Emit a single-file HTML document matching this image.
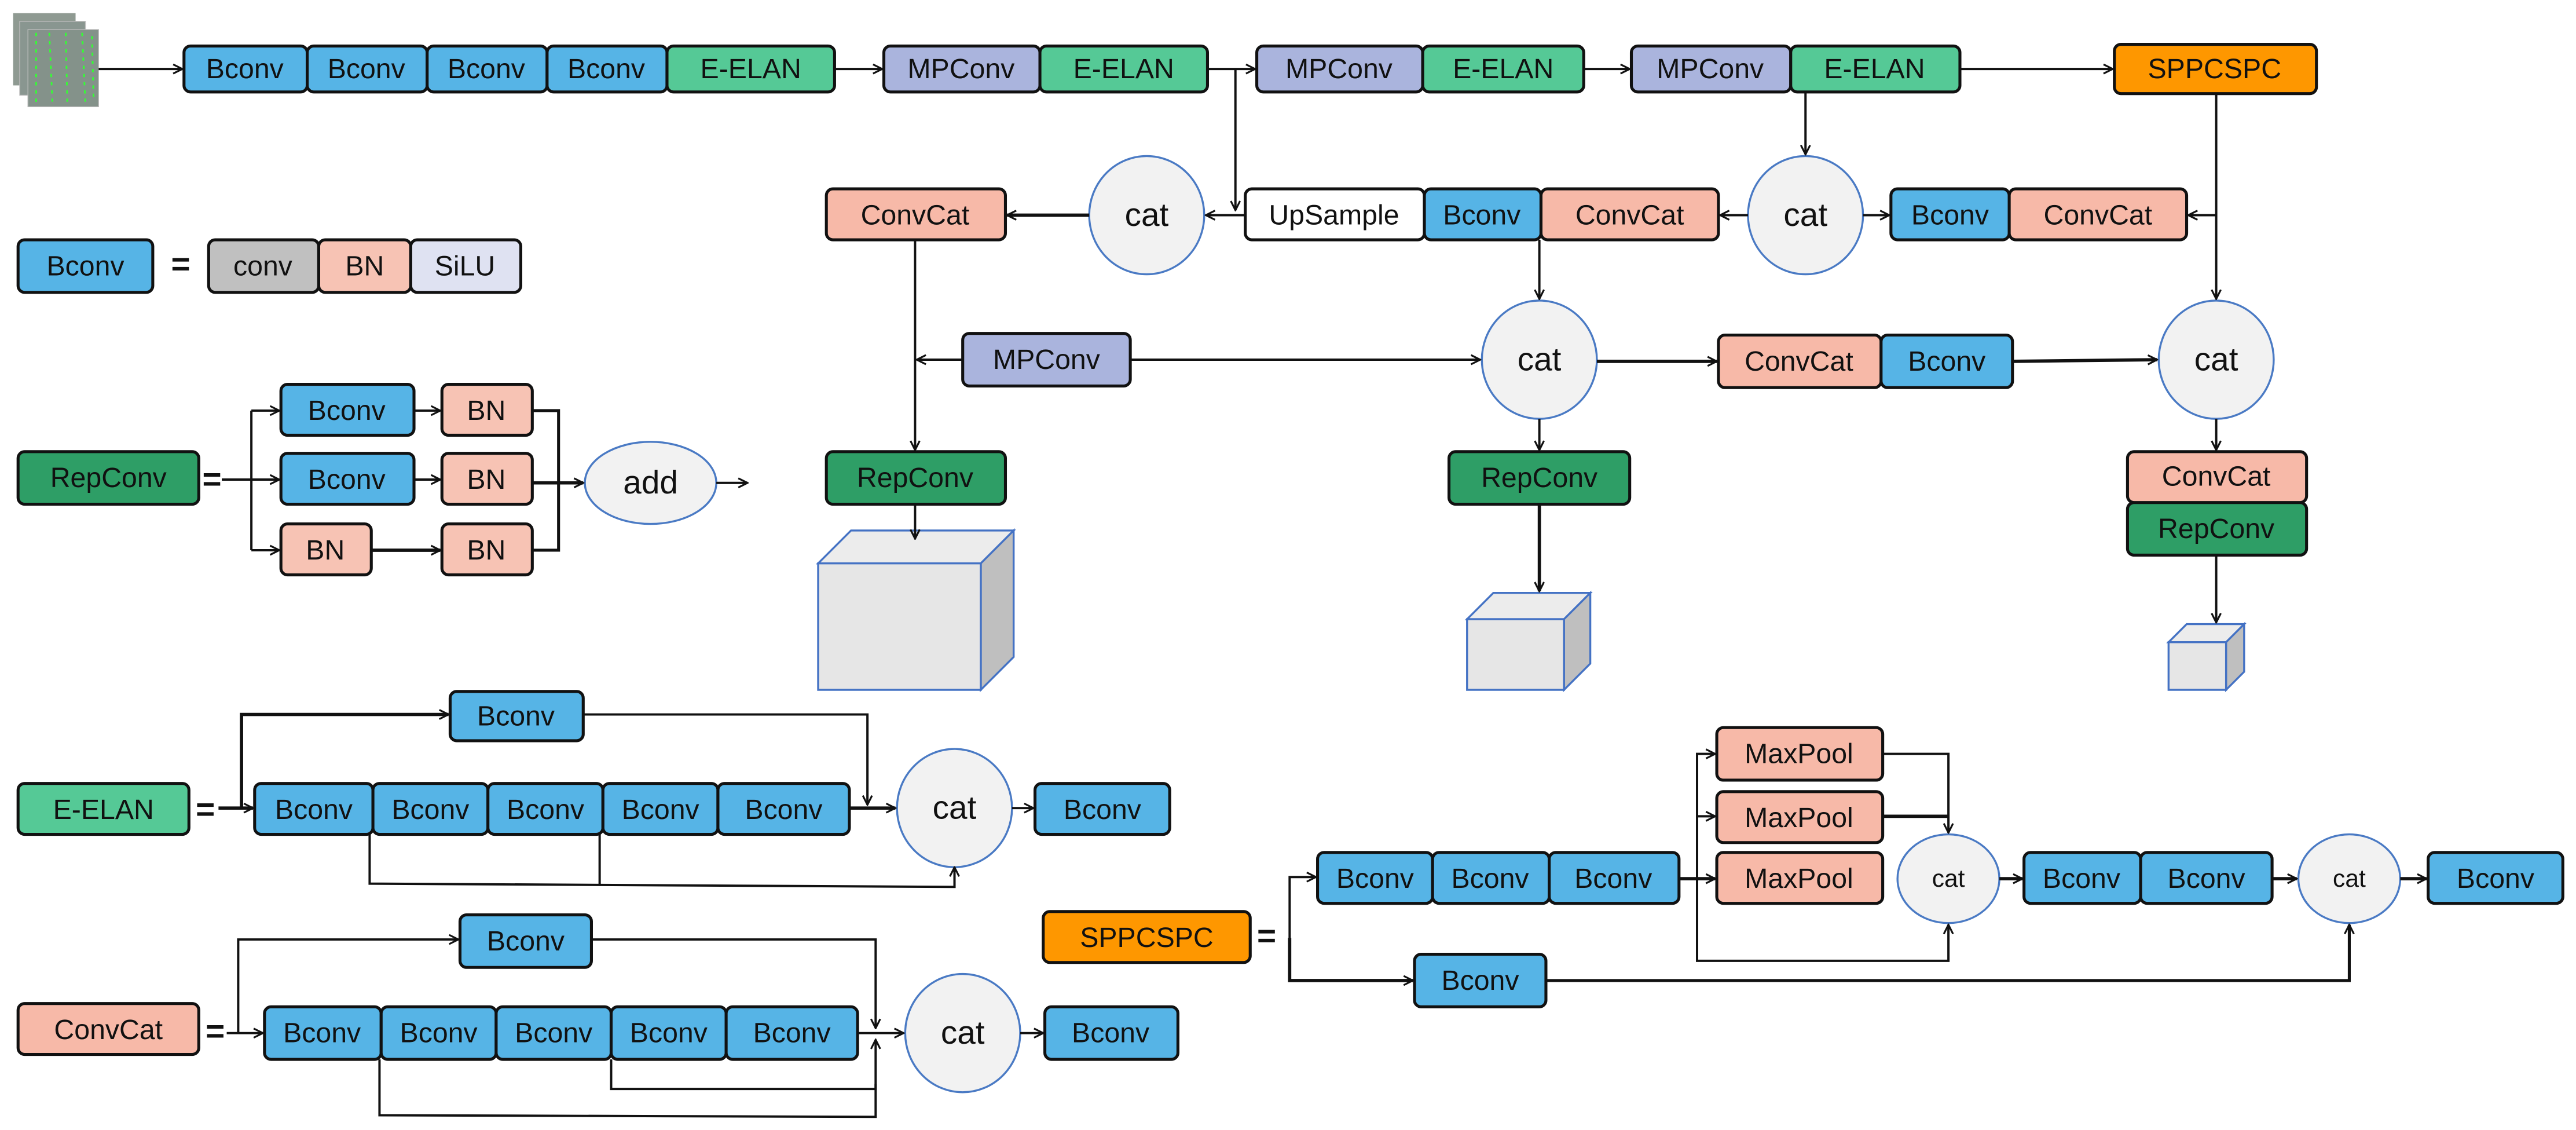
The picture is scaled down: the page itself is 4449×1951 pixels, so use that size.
<!DOCTYPE html>
<html><head><meta charset="utf-8"><style>
html,body{margin:0;padding:0;background:#fff;}
svg{display:block}
text{font-family:"Liberation Sans",Arial,sans-serif;fill:#111;text-anchor:middle;dominant-baseline:central}
.b{stroke:#111;stroke-width:1.8}
.l{stroke:#111;stroke-width:1.4;fill:none}
.c{fill:#f2f2f2;stroke:#4a7ac4;stroke-width:1.2}
.cube{stroke:#4472c4;stroke-width:1.2}
</style></head><body>
<svg width="4449" height="1951" viewBox="0 0 1568 688" preserveAspectRatio="none" xmlns="http://www.w3.org/2000/svg">
<defs><marker id="a" viewBox="0 0 10 10" refX="9" refY="5" markerWidth="7" markerHeight="7" markerUnits="userSpaceOnUse" orient="auto"><path d="M1,1 L9,5 L1,9" fill="none" stroke="#111" stroke-width="1.6"/></marker></defs>
<rect width="1568" height="688" fill="#fff"/>
<!-- image stack -->
<rect x="8" y="8" width="38" height="44" fill="#8f9a92"/>
<rect x="12" y="13" width="40" height="45" fill="#899690" stroke="#bbb" stroke-width="0.5"/>
<rect x="17" y="18" width="43" height="47" fill="#84928a" stroke="#bbb" stroke-width="0.5"/>
<g stroke="#3f3" stroke-width="1" stroke-dasharray="2,3"><line x1="22" y1="20" x2="22" y2="64"/><line x1="30" y1="20" x2="32" y2="64"/><line x1="40" y1="20" x2="41" y2="64"/><line x1="50" y1="20" x2="52" y2="64"/><line x1="56" y1="22" x2="57" y2="62"/></g>

<g font-size="17">
<!-- top row -->
<rect class="b" x="112" y="28" width="75" height="28" rx="4" fill="#56b4e6"/><text x="149" y="42">Bconv</text>
<rect class="b" x="187" y="28" width="73" height="28" rx="4" fill="#56b4e6"/><text x="223" y="42">Bconv</text>
<rect class="b" x="260" y="28" width="73" height="28" rx="4" fill="#56b4e6"/><text x="296" y="42">Bconv</text>
<rect class="b" x="333" y="28" width="73" height="28" rx="4" fill="#56b4e6"/><text x="369" y="42">Bconv</text>
<rect class="b" x="406" y="28" width="102" height="28" rx="4" fill="#55c996"/><text x="457" y="42">E-ELAN</text>
<rect class="b" x="538" y="28" width="95" height="28" rx="4" fill="#aab4dd"/><text x="585" y="42">MPConv</text>
<rect class="b" x="633" y="28" width="102" height="28" rx="4" fill="#55c996"/><text x="684" y="42">E-ELAN</text>
<rect class="b" x="765" y="28" width="101" height="28" rx="4" fill="#aab4dd"/><text x="815" y="42">MPConv</text>
<rect class="b" x="866" y="28" width="98" height="28" rx="4" fill="#55c996"/><text x="915" y="42">E-ELAN</text>
<rect class="b" x="993" y="28" width="97" height="28" rx="4" fill="#aab4dd"/><text x="1041" y="42">MPConv</text>
<rect class="b" x="1090" y="28" width="103" height="28" rx="4" fill="#55c996"/><text x="1141" y="42">E-ELAN</text>
<rect class="b" x="1287" y="27" width="123" height="30" rx="4" fill="#fe9700"/><text x="1348" y="42">SPPCSPC</text>
<!-- row 2 -->
<rect class="b" x="503" y="115" width="109" height="31" rx="4" fill="#f7b9a8"/><text x="557" y="131">ConvCat</text>
<rect class="b" x="758" y="115" width="109" height="31" rx="4" fill="#fff"/><text x="812" y="131">UpSample</text>
<rect class="b" x="867" y="115" width="71" height="31" rx="4" fill="#56b4e6"/><text x="902" y="131">Bconv</text>
<rect class="b" x="938" y="115" width="108" height="31" rx="4" fill="#f7b9a8"/><text x="992" y="131">ConvCat</text>
<rect class="b" x="1151" y="115" width="72" height="31" rx="4" fill="#56b4e6"/><text x="1187" y="131">Bconv</text>
<rect class="b" x="1223" y="115" width="108" height="31" rx="4" fill="#f7b9a8"/><text x="1277" y="131">ConvCat</text>
<!-- row 3 -->
<rect class="b" x="586" y="203" width="102" height="32" rx="4" fill="#aab4dd"/><text x="637" y="219">MPConv</text>
<rect class="b" x="1046" y="204" width="99" height="32" rx="4" fill="#f7b9a8"/><text x="1095" y="220">ConvCat</text>
<rect class="b" x="1145" y="204" width="80" height="32" rx="4" fill="#56b4e6"/><text x="1185" y="220">Bconv</text>
<rect class="b" x="503" y="275" width="109" height="32" rx="4" fill="#2e9e66"/><text x="557" y="291">RepConv</text>
<rect class="b" x="882" y="275" width="110" height="32" rx="4" fill="#2e9e66"/><text x="937" y="291">RepConv</text>
<rect class="b" x="1295" y="275" width="109" height="31" rx="4" fill="#f7b9a8"/><text x="1349" y="290">ConvCat</text>
<rect class="b" x="1295" y="306" width="109" height="32" rx="4" fill="#2e9e66"/><text x="1349" y="322">RepConv</text>
<!-- legend Bconv -->
<rect class="b" x="11" y="146" width="82" height="32" rx="4" fill="#56b4e6"/><text x="52" y="162">Bconv</text>
<text x="110" y="161" font-size="20" font-weight="bold">=</text>
<rect class="b" x="127" y="146" width="67" height="32" rx="4" fill="#c0c0c0"/><text x="160" y="162">conv</text>
<rect class="b" x="194" y="146" width="56" height="32" rx="4" fill="#f7c3b4"/><text x="222" y="162">BN</text>
<rect class="b" x="250" y="146" width="67" height="32" rx="4" fill="#dfe2f2"/><text x="283" y="162">SiLU</text>
<!-- legend RepConv -->
<rect class="b" x="11" y="275" width="110" height="32" rx="4" fill="#2e9e66"/><text x="66" y="291">RepConv</text>
<text x="129" y="292" font-size="20" font-weight="bold">=</text>
<rect class="b" x="171" y="234" width="81" height="31" rx="4" fill="#56b4e6"/><text x="211" y="250">Bconv</text>
<rect class="b" x="269" y="234" width="55" height="31" rx="4" fill="#f7c3b4"/><text x="296" y="250">BN</text>
<rect class="b" x="171" y="276" width="81" height="31" rx="4" fill="#56b4e6"/><text x="211" y="292">Bconv</text>
<rect class="b" x="269" y="276" width="55" height="31" rx="4" fill="#f7c3b4"/><text x="296" y="292">BN</text>
<rect class="b" x="171" y="319" width="55" height="31" rx="4" fill="#f7c3b4"/><text x="198" y="335">BN</text>
<rect class="b" x="269" y="319" width="55" height="31" rx="4" fill="#f7c3b4"/><text x="296" y="335">BN</text>
<!-- E-ELAN legend -->
<rect class="b" x="11" y="477" width="104" height="31" rx="4" fill="#55c996"/><text x="63" y="493">E-ELAN</text>
<text x="125" y="493" font-size="20" font-weight="bold">=</text>
<rect class="b" x="274" y="421" width="81" height="30" rx="4" fill="#56b4e6"/><text x="314" y="436">Bconv</text>
<rect class="b" x="155" y="477" width="72" height="31" rx="4" fill="#56b4e6"/><text x="191" y="493">Bconv</text>
<rect class="b" x="227" y="477" width="70" height="31" rx="4" fill="#56b4e6"/><text x="262" y="493">Bconv</text>
<rect class="b" x="297" y="477" width="70" height="31" rx="4" fill="#56b4e6"/><text x="332" y="493">Bconv</text>
<rect class="b" x="367" y="477" width="70" height="31" rx="4" fill="#56b4e6"/><text x="402" y="493">Bconv</text>
<rect class="b" x="437" y="477" width="80" height="31" rx="4" fill="#56b4e6"/><text x="477" y="493">Bconv</text>
<rect class="b" x="630" y="477" width="82" height="31" rx="4" fill="#56b4e6"/><text x="671" y="493">Bconv</text>
<!-- ConvCat legend -->
<rect class="b" x="11" y="611" width="110" height="31" rx="4" fill="#f7b9a8"/><text x="66" y="627">ConvCat</text>
<text x="131" y="628" font-size="20" font-weight="bold">=</text>
<rect class="b" x="280" y="557" width="80" height="32" rx="4" fill="#56b4e6"/><text x="320" y="573">Bconv</text>
<rect class="b" x="161" y="613" width="71" height="32" rx="4" fill="#56b4e6"/><text x="196" y="629">Bconv</text>
<rect class="b" x="232" y="613" width="70" height="32" rx="4" fill="#56b4e6"/><text x="267" y="629">Bconv</text>
<rect class="b" x="302" y="613" width="70" height="32" rx="4" fill="#56b4e6"/><text x="337" y="629">Bconv</text>
<rect class="b" x="372" y="613" width="70" height="32" rx="4" fill="#56b4e6"/><text x="407" y="629">Bconv</text>
<rect class="b" x="442" y="613" width="80" height="32" rx="4" fill="#56b4e6"/><text x="482" y="629">Bconv</text>
<rect class="b" x="636" y="613" width="81" height="32" rx="4" fill="#56b4e6"/><text x="676" y="629">Bconv</text>
<!-- SPPCSPC legend -->
<rect class="b" x="635" y="555" width="126" height="31" rx="4" fill="#fe9700"/><text x="698" y="571">SPPCSPC</text>
<text x="771" y="570" font-size="20" font-weight="bold">=</text>
<rect class="b" x="802" y="519" width="70" height="31" rx="4" fill="#56b4e6"/><text x="837" y="535">Bconv</text>
<rect class="b" x="872" y="519" width="71" height="31" rx="4" fill="#56b4e6"/><text x="907" y="535">Bconv</text>
<rect class="b" x="943" y="519" width="79" height="31" rx="4" fill="#56b4e6"/><text x="982" y="535">Bconv</text>
<rect class="b" x="861" y="581" width="80" height="32" rx="4" fill="#56b4e6"/><text x="901" y="597">Bconv</text>
<rect class="b" x="1045" y="443" width="101" height="32" rx="4" fill="#f7b9a8"/><text x="1095" y="459">MaxPool</text>
<rect class="b" x="1045" y="482" width="101" height="31" rx="4" fill="#f7b9a8"/><text x="1095" y="498">MaxPool</text>
<rect class="b" x="1045" y="519" width="101" height="31" rx="4" fill="#f7b9a8"/><text x="1095" y="535">MaxPool</text>
<rect class="b" x="1232" y="519" width="71" height="31" rx="4" fill="#56b4e6"/><text x="1267" y="535">Bconv</text>
<rect class="b" x="1303" y="519" width="80" height="31" rx="4" fill="#56b4e6"/><text x="1343" y="535">Bconv</text>
<rect class="b" x="1478" y="519" width="82" height="31" rx="4" fill="#56b4e6"/><text x="1519" y="535">Bconv</text>
</g>

<!-- circles -->
<g font-size="20">
<ellipse class="c" cx="698" cy="131" rx="35" ry="36"/><text x="698" y="131">cat</text>
<ellipse class="c" cx="1099" cy="131" rx="35" ry="36"/><text x="1099" y="131">cat</text>
<ellipse class="c" cx="937" cy="219" rx="35" ry="36"/><text x="937" y="219">cat</text>
<ellipse class="c" cx="1349" cy="219" rx="35" ry="36"/><text x="1349" y="219">cat</text>
<ellipse class="c" cx="396" cy="294" rx="40" ry="25"/><text x="396" y="294">add</text>
<ellipse class="c" cx="581" cy="492" rx="35" ry="36"/><text x="581" y="492">cat</text>
<ellipse class="c" cx="586" cy="629" rx="35" ry="36"/><text x="586" y="629">cat</text>
</g>
<g font-size="15">
<ellipse class="c" cx="1186" cy="535" rx="31" ry="27"/><text x="1186" y="535">cat</text>
<ellipse class="c" cx="1430" cy="535" rx="31" ry="27"/><text x="1430" y="535">cat</text>
</g>

<!-- cubes -->
<g class="cube">
<polygon points="498,343 518,323 617,323 597,343" fill="#ececec"/>
<polygon points="597,343 617,323 617,400 597,420" fill="#bfbfbf"/>
<rect x="498" y="343" width="99" height="77" fill="#e6e6e6"/>
<polygon points="893,377 909,361 968,361 952,377" fill="#ececec"/>
<polygon points="952,377 968,361 968,404 952,420" fill="#bfbfbf"/>
<rect x="893" y="377" width="59" height="43" fill="#e6e6e6"/>
<polygon points="1320,391 1331,380 1366,380 1355,391" fill="#ececec"/>
<polygon points="1355,391 1366,380 1366,409 1355,420" fill="#bfbfbf"/>
<rect x="1320" y="391" width="35" height="29" fill="#e6e6e6"/>
</g>

<!-- connectors -->
<g class="l" marker-end="url(#a)">
<line x1="60" y1="42" x2="111" y2="42"/>
<line x1="508" y1="42" x2="537" y2="42"/>
<line x1="735" y1="42" x2="764" y2="42"/>
<line x1="964" y1="42" x2="992" y2="42"/>
<line x1="1193" y1="42" x2="1286" y2="42"/>
<line x1="752" y1="42" x2="752" y2="128"/>
<line x1="758" y1="131" x2="734" y2="131"/>
<line x1="663" y1="131" x2="613" y2="131" stroke-width="2"/>
<line x1="1099" y1="56" x2="1099" y2="94"/>
<line x1="1064" y1="131" x2="1047" y2="131"/>
<line x1="1134" y1="131" x2="1150" y2="131"/>
<line x1="1349" y1="57" x2="1349" y2="182"/>
<line x1="1349" y1="131" x2="1332" y2="131"/>
<line x1="937" y1="146" x2="937" y2="182"/>
<line x1="557" y1="146" x2="557" y2="274"/>
<line x1="586" y1="219" x2="558" y2="219"/>
<line x1="688" y1="219" x2="901" y2="219"/>
<line x1="972" y1="220" x2="1045" y2="220" stroke-width="2"/>
<line x1="1225" y1="220" x2="1313" y2="219" stroke-width="2"/>
<line x1="937" y1="255" x2="937" y2="274"/>
<line x1="1349" y1="255" x2="1349" y2="274"/>
<line x1="557" y1="307" x2="557" y2="328"/>
<line x1="937" y1="307" x2="937" y2="360" stroke-width="2"/>
<line x1="1349" y1="338" x2="1349" y2="379"/>
<!-- RepConv legend -->
<line x1="153" y1="250" x2="170" y2="250"/>
<line x1="135" y1="292" x2="170" y2="292"/>
<line x1="153" y1="335" x2="170" y2="335"/>
<line x1="252" y1="250" x2="268" y2="250"/>
<line x1="252" y1="292" x2="268" y2="292"/>
<line x1="226" y1="335" x2="268" y2="335" stroke-width="2"/>
<line x1="324" y1="294" x2="355" y2="294" stroke-width="2"/>
<line x1="436" y1="294" x2="455" y2="294"/>
<!-- E-ELAN -->
<line x1="133" y1="492" x2="154" y2="492" stroke-width="2"/>
<polyline points="147,492 147,435 273,435" stroke-width="2"/>
<polyline points="355,435 528,435 528,490"/>
<line x1="517" y1="492" x2="545" y2="492" stroke-width="2"/>
<polyline points="225,508 225,538 581,540 581,528"/>
<line x1="616" y1="492" x2="629" y2="492"/>
<!-- ConvCat -->
<line x1="138" y1="629" x2="160" y2="629"/>
<polyline points="145,629 145,572 279,572"/>
<polyline points="360,572 533,572 533,626"/>
<polyline points="372,645 372,663 533,663 533,633"/>
<line x1="522" y1="629" x2="550" y2="629"/>
<line x1="621" y1="629" x2="635" y2="629"/>
<!-- SPPCSPC -->
<polyline points="785,571 785,534 801,534"/>
<polyline points="785,571 785,597 860,597" stroke-width="2"/>
<line x1="1022" y1="535" x2="1044" y2="535" stroke-width="2"/>
<polyline points="1033,535 1033,459 1044,459"/>
<line x1="1033" y1="497" x2="1044" y2="497"/>
<polyline points="1146,459 1186,459 1186,507"/>
<polyline points="1033,535 1033,585 1186,585 1186,563"/>
<line x1="1217" y1="535" x2="1231" y2="535" stroke-width="2"/>
<line x1="1383" y1="535" x2="1398" y2="535" stroke-width="2"/>
<line x1="1461" y1="535" x2="1477" y2="535" stroke-width="2"/>
<polyline points="941,597 1430,597 1430,563" stroke-width="1.8"/>
</g>
<g class="l">
<line x1="153" y1="250" x2="153" y2="335"/>
<polyline points="324,250 340,250 340,335 324,335" stroke-width="1.8"/>
<line x1="365" y1="508" x2="365" y2="539"/>
<polyline points="231,645 231,679 533,680 533,660"/>
<line x1="1146" y1="497" x2="1186" y2="497" stroke-width="2"/>
</g>
</svg>
</body></html>
